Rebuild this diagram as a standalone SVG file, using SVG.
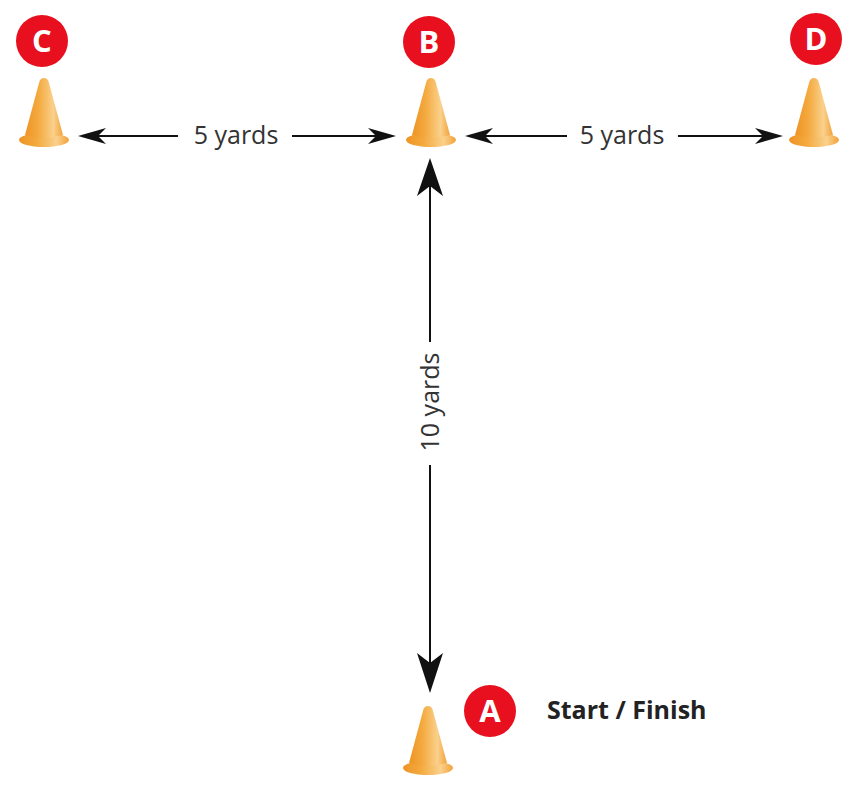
<svg xmlns="http://www.w3.org/2000/svg" width="852" height="802" viewBox="0 0 852 802">
  <style>
    .badge-circle { fill: #E8101E; }
    .badge-letter { fill: #ffffff; font-family: "Open Sans", "Liberation Sans", sans-serif; font-weight: bold; font-size: 31px; text-anchor: middle; }
    .dim-line { stroke: #111111; stroke-width: 2; fill: none; }
    .dim-label { fill: #333333; font-family: "Open Sans", "Liberation Sans", sans-serif; font-size: 25px; text-anchor: middle; }
    .title { fill: #222222; font-family: "Open Sans", "Liberation Sans", sans-serif; font-weight: bold; font-size: 25px; }
    .arrowhead { fill: #111111; }
  </style>
  <defs>
    <linearGradient id="coneGrad" x1="0" y1="0" x2="1" y2="0">
      <stop offset="0" stop-color="#EE9425"/>
      <stop offset="0.35" stop-color="#F4A93E"/>
      <stop offset="0.75" stop-color="#FAD18C"/>
      <stop offset="1" stop-color="#F2A23A"/>
    </linearGradient>
    <g id="cone">
      <ellipse cx="0" cy="62" rx="25" ry="7" fill="url(#coneGrad)"/>
      <path d="M -5,5 Q -4,0 0,0 Q 4,0 5,5 L 19,57 Q 0,62 -19,57 Z" fill="url(#coneGrad)"/>
    </g>
  </defs>

  <rect x="0" y="0" width="852" height="802" fill="#ffffff"/>

  <g id="connectors">
    <!-- C <-> B -->
    <line class="dim-line" x1="90" y1="136" x2="178" y2="136"/>
    <line class="dim-line" x1="292" y1="136" x2="385" y2="136"/>
    <path class="arrowhead" d="M 78,136 L 106,128 L 98,136 L 106,144 Z"/>
    <path class="arrowhead" d="M 396,136 L 368,128 L 376,136 L 368,144 Z"/>
    <text class="dim-label" x="236" y="144">5 yards</text>
    <!-- B <-> D -->
    <line class="dim-line" x1="476" y1="136" x2="567" y2="136"/>
    <line class="dim-line" x1="678" y1="136" x2="772" y2="136"/>
    <path class="arrowhead" d="M 465,136 L 493,128 L 485,136 L 493,144 Z"/>
    <path class="arrowhead" d="M 783,136 L 755,128 L 763,136 L 755,144 Z"/>
    <text class="dim-label" x="622" y="144">5 yards</text>
    <!-- B <-> A -->
    <line class="dim-line" x1="430" y1="180" x2="430" y2="342"/>
    <line class="dim-line" x1="430" y1="465" x2="430" y2="675"/>
    <path class="arrowhead" d="M 430,158 L 443,196 L 430,186 L 417,196 Z"/>
    <path class="arrowhead" d="M 430,693 L 443,653 L 430,663 L 417,653 Z"/>
    <text class="dim-label" transform="translate(439,402) rotate(-90)" x="0" y="0">10 yards</text>
  </g>

  <g id="node-C">
    <use href="#cone" x="44" y="78"/>
    <circle class="badge-circle" cx="42" cy="41" r="26"/>
    <text class="badge-letter" x="42" y="52">C</text>
  </g>

  <g id="node-B">
    <use href="#cone" x="431" y="78"/>
    <circle class="badge-circle" cx="429" cy="42" r="26"/>
    <text class="badge-letter" x="429" y="53">B</text>
  </g>

  <g id="node-D">
    <use href="#cone" x="814" y="78"/>
    <circle class="badge-circle" cx="816" cy="39" r="26"/>
    <text class="badge-letter" x="816" y="50">D</text>
  </g>

  <g id="node-A">
    <use href="#cone" x="428" y="706"/>
    <circle class="badge-circle" cx="490" cy="711" r="26"/>
    <text class="badge-letter" x="490" y="722">A</text>
    <text class="title" x="547" y="719">Start / Finish</text>
  </g>
</svg>
